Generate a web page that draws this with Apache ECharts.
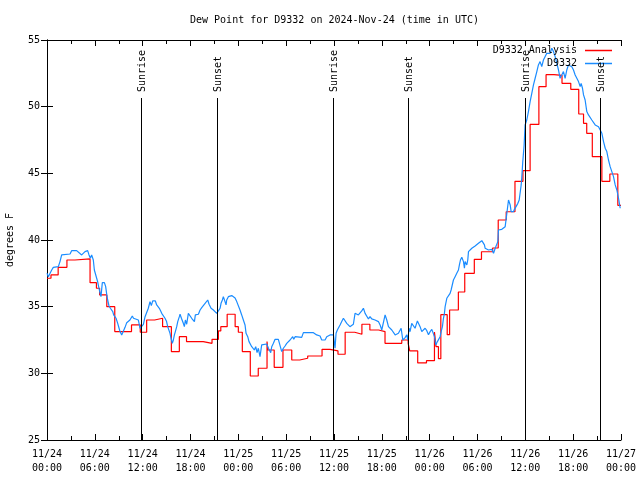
<!DOCTYPE html>
<html>
<head>
<meta charset="utf-8">
<script src="https://cdn.jsdelivr.net/npm/echarts@6/dist/echarts.min.js"></script>
<style>html,body{margin:0;padding:0;background:#fff}#c{width:640px;height:480px}</style>
</head>
<body>
<div id="c"></div>
<script>
const chartTitle = 'Dew Point for D9332 on 2024-Nov-24 (time in UTC)';
const yAxisName = 'degrees F';
const seriesNames = ['D9332 Analysis', 'D9332'];
// x in hours since 11/24 00:00 UTC
const xTickLabels = ['11/24\n00:00','11/24\n06:00','11/24\n12:00','11/24\n18:00','11/25\n00:00','11/25\n06:00','11/25\n12:00','11/25\n18:00','11/26\n00:00','11/26\n06:00','11/26\n12:00','11/26\n18:00','11/27\n00:00'];
const sunTimes = [11.8, 21.33, 35.88, 45.3, 59.97, 69.39];
const sunLabels = ['Sunrise','Sunset','Sunrise','Sunset','Sunrise','Sunset'];

// analysis (step changes): [hour, value]
const analysis = [[0,37.13],[0.5,37.38],[1.4,37.95],[2.5,38.5],[3.5,38.58],[5.4,36.8],[6.2,36.38],[6.6,35.88],[7.5,35.0],[8.5,33.13],[10.6,33.63],[11.7,33.08],[12.5,34.0],[13.5,34.13],[14.5,33.5],[15.6,31.63],[16.6,32.75],[17.5,32.38],[19.6,32.25],[20.7,32.55],[21.5,33.18],[21.8,33.5],[22.6,34.43],[23.6,33.5],[24.0,33.08],[24.5,31.63],[25.5,29.8],[26.5,30.38],[27.6,32.38],[27.7,31.75],[28.5,30.45],[29.6,31.75],[30.7,31.0],[31.7,31.13],[32.7,31.3],[34.5,31.8],[35.5,31.68],[36.5,31.43],[37.4,33.08],[38.6,32.93],[39.5,33.68],[40.5,33.25],[41.6,33.13],[42.4,32.25],[44.5,32.5],[45.3,32.25],[45.5,31.68],[46.5,30.78],[47.6,30.95],[48.6,33.1],[48.8,32.0],[49.1,31.1],[49.4,34.4],[50.2,32.9],[50.5,34.75],[51.6,36.1],[52.4,37.5],[53.6,38.55],[54.5,39.12],[55.9,39.4],[56.6,41.5],[57.6,42.12],[58.7,44.4],[59.7,45.2],[60.6,48.67],[61.7,51.5],[62.6,52.4],[63.6,52.35],[64.6,51.75],[65.7,51.3],[66.7,49.45],[67.3,48.75],[67.7,48.0],[68.4,46.25],[69.6,44.4],[70.6,44.95],[71.6,42.6],[72,42.6]];

// observations: [hour, value]
const observed = [[0,37.5],[0.17,37.25],[0.38,37.4],[0.59,37.75],[0.79,37.95],[1.42,38.0],[1.63,38.38],[1.84,38.88],[2.89,38.95],[3.09,39.2],[3.72,39.2],[3.93,39.05],[4.35,38.88],[4.56,38.75],[4.77,39.13],[5.1,39.2],[5.27,38.88],[5.44,38.63],[5.6,38.88],[5.81,38.5],[5.94,37.75],[6.1,37.63],[6.23,37.13],[6.35,36.88],[6.52,36.38],[6.65,36.25],[6.77,35.75],[6.94,36.8],[7.2,36.8],[7.36,36.5],[7.5,35.88],[7.61,35.5],[7.78,35.05],[7.95,34.88],[8.11,35.0],[8.25,34.63],[8.36,34.38],[8.5,34.25],[8.66,34.13],[8.87,33.75],[9.04,33.38],[9.16,33.13],[9.37,32.88],[9.58,33.0],[9.79,33.45],[10.0,33.8],[10.4,34.0],[10.7,34.3],[10.85,34.13],[11.0,34.0],[11.46,34.0],[11.67,33.38],[11.88,33.5],[12.09,33.68],[12.3,34.25],[12.5,34.38],[12.71,34.88],[12.92,35.38],[13.09,35.08],[13.26,35.43],[13.42,35.58],[13.59,35.43],[13.76,35.13],[13.97,35.18],[14.09,34.88],[14.26,34.68],[14.39,34.5],[14.6,34.63],[14.8,34.13],[15.0,33.88],[15.14,33.5],[15.27,33.63],[15.43,33.0],[15.56,32.63],[15.72,32.25],[15.85,32.5],[15.98,32.88],[16.1,33.13],[16.27,33.5],[16.4,33.88],[16.6,34.25],[16.69,34.43],[16.86,34.13],[16.94,34.25],[17.1,33.75],[17.23,33.5],[17.36,34.0],[17.52,33.68],[17.73,34.5],[17.94,34.43],[18.15,34.13],[18.36,34.13],[18.49,33.88],[18.61,34.38],[18.78,34.5],[18.99,34.43],[19.2,34.75],[19.41,34.93],[19.62,34.88],[19.83,35.25],[20.04,35.18],[20.16,35.5],[20.33,35.18],[20.45,35.13],[20.58,34.88],[20.75,35.0],[20.87,34.75],[21.08,34.63],[21.29,34.5],[21.5,34.58],[21.71,34.88],[21.83,35.25],[22.0,35.5],[22.12,35.75],[22.33,35.38],[22.46,35.13],[22.54,35.5],[22.75,35.75],[22.96,35.63],[23.17,35.83],[23.38,35.75],[23.59,35.65],[23.8,35.38],[24.0,35.25],[24.21,34.75],[24.42,34.38],[24.63,34.0],[24.84,33.63],[24.97,33.0],[25.18,32.75],[25.34,32.38],[25.47,32.25],[25.68,32.0],[25.89,32.13],[26.01,31.75],[26.18,32.0],[26.35,31.55],[26.51,31.88],[26.72,31.25],[26.93,32.13],[27.14,32.2],[27.56,32.2],[27.77,31.88],[27.89,31.75],[28.06,31.55],[28.19,32.0],[28.4,32.25],[28.61,32.55],[29.02,32.55],[29.23,32.5],[29.44,31.63],[29.65,31.88],[29.86,32.05],[30.07,32.25],[30.28,32.38],[30.49,32.5],[30.7,32.63],[30.82,32.75],[30.95,32.55],[31.12,32.75],[31.33,32.7],[31.95,32.7],[32.16,33.05],[33.42,33.05],[33.63,33.0],[33.83,32.88],[34.25,32.8],[34.46,32.5],[34.88,32.5],[35.09,32.75],[35.5,32.88],[35.93,32.88],[36.13,31.88],[36.26,33.0],[36.42,33.25],[36.55,33.13],[36.76,33.63],[36.97,33.88],[37.18,34.13],[37.39,34.0],[37.6,33.75],[37.8,33.63],[38.0,33.5],[38.22,33.38],[38.43,33.68],[38.64,34.5],[38.85,34.63],[39.06,34.38],[39.27,34.5],[39.48,34.68],[39.69,34.88],[39.9,34.5],[40.1,34.38],[40.32,34.08],[40.52,34.25],[40.73,34.08],[40.94,34.18],[41.15,34.0],[41.36,34.13],[41.57,33.88],[41.78,33.63],[41.99,33.25],[42.2,33.13],[42.41,34.38],[42.62,34.0],[42.83,33.5],[43.04,33.38],[43.25,33.25],[43.46,33.25],[43.67,32.88],[43.88,32.88],[44.08,33.0],[44.29,33.13],[44.42,33.38],[44.63,32.5],[44.79,32.63],[44.92,32.68],[45.13,32.88],[45.25,32.5],[45.42,33.38],[45.54,33.13],[45.75,33.75],[45.96,33.88],[46.17,33.38],[46.3,33.63],[46.46,33.93],[46.63,33.88],[46.8,33.5],[47.01,33.13],[47.22,33.0],[47.43,33.38],[47.64,33.2],[47.85,32.9],[48.06,33.13],[48.27,33.3],[48.47,33.45],[48.6,32.75],[48.77,32.13],[48.97,32.38],[49.18,32.25],[49.31,32.75],[49.44,33.13],[49.6,33.5],[49.73,34.13],[49.85,34.5],[49.94,35.0],[50.15,35.63],[50.35,35.5],[50.56,36.0],[50.69,36.25],[50.86,36.38],[50.98,37.0],[51.19,37.25],[51.4,37.5],[51.61,37.75],[51.73,38.13],[51.86,38.5],[52.03,38.7],[52.24,38.38],[52.36,37.88],[52.45,38.38],[52.66,38.13],[52.78,38.5],[52.87,39.13],[53.08,39.13],[53.29,39.38],[53.5,39.5],[53.7,39.55],[53.91,39.5],[54.12,39.75],[54.33,39.88],[54.54,39.95],[54.75,39.88],[54.87,39.63],[54.96,39.38],[55.17,39.3],[55.38,39.25],[55.59,39.38],[55.8,39.3],[56.01,39.0],[56.22,39.38],[56.43,39.5],[56.55,39.88],[56.63,40.75],[56.84,40.8],[57.05,40.8],[57.26,40.88],[57.47,41.0],[57.68,42.0],[57.89,43.0],[58.1,42.63],[58.22,42.13],[58.35,42.2],[58.52,42.13],[58.64,42.3],[58.81,42.38],[59.06,42.75],[59.23,43.0],[59.35,43.0],[59.48,44.13],[59.55,44.63],[59.68,45.88],[59.85,47.13],[59.97,48.63],[60.18,49.0],[60.39,49.63],[60.6,50.38],[60.81,51.0],[61.02,51.63],[61.23,52.13],[61.44,52.63],[61.64,53.13],[61.85,53.38],[62.06,53.0],[62.27,53.5],[62.48,53.63],[62.69,54.0],[62.9,54.13],[63.11,54.0],[63.32,54.38],[63.53,54.13],[63.74,53.75],[63.95,53.25],[64.16,52.75],[64.36,52.13],[64.57,52.38],[64.78,52.63],[64.99,52.13],[65.2,52.75],[65.41,53.13],[65.62,53.25],[65.83,53.0],[66.04,52.75],[66.25,52.38],[66.46,52.13],[66.67,51.88],[66.88,51.5],[67.0,51.75],[67.17,51.38],[67.3,50.88],[67.5,50.5],[67.71,49.63],[67.92,49.38],[68.13,49.25],[68.34,49.0],[68.55,48.88],[68.76,48.63],[68.97,48.68],[69.18,48.5],[69.39,48.25],[69.6,48.0],[69.81,47.38],[70.02,46.88],[70.22,46.63],[70.43,46.0],[70.64,45.5],[70.85,45.13],[71.06,44.75],[71.27,44.13],[71.48,43.75],[71.69,43.13],[71.9,42.38]];

const FONT = '"DejaVu Sans Mono", "Liberation Mono", monospace';
const chart = echarts.init(document.getElementById('c'), null, {renderer: 'canvas'});
const sunTop = 50.65;

const xAxisBase = {
  type: 'value', min: 0, max: 72, interval: 6,
  axisLine: {show: true, lineStyle: {color: '#000', width: 1}},
  axisTick: {show: true, inside: true, length: 6, lineStyle: {color: '#000'}},
  minorTick: {show: true, splitNumber: 2, length: 4, lineStyle: {color: '#000'}},
  splitLine: {show: false}
};
const yAxisBase = {
  type: 'value', min: 25, max: 55, interval: 5,
  axisLine: {show: true, lineStyle: {color: '#000', width: 1}},
  axisTick: {show: true, inside: true, length: 6, lineStyle: {color: '#000'}},
  splitLine: {show: false}
};

chart.setOption({
  animation: false,
  backgroundColor: '#fff',
  title: {
    text: chartTitle, left: 190, top: 15, padding: 0,
    textStyle: {fontFamily: FONT, fontSize: 10, fontWeight: 'normal', color: '#000'}
  },
  legend: {
    data: seriesNames, orient: 'vertical', right: 23, top: 40, align: 'right',
    icon: 'rect', itemWidth: 27, itemHeight: 1.5, itemGap: 2,
    textStyle: {fontFamily: FONT, fontSize: 10, color: '#000', padding: [0, 3, 0, 0], lineHeight: 11}
  },
  grid: {left: 47, right: 19, top: 40, bottom: 40, containLabel: false, outerBoundsMode: 'none'},
  xAxis: [
    Object.assign({}, xAxisBase, {
      position: 'bottom',
      axisLabel: {
        show: true, margin: 7, color: '#000', fontFamily: FONT, fontSize: 10, lineHeight: 14,
        formatter: v => xTickLabels[Math.round(v / 6)]
      }
    }),
    Object.assign({}, xAxisBase, {position: 'top', axisLabel: {show: false}})
  ],
  yAxis: [
    Object.assign({}, yAxisBase, {
      position: 'left',
      name: yAxisName, nameLocation: 'middle', nameGap: 32, nameRotate: 90,
      nameTextStyle: {fontFamily: FONT, fontSize: 10, color: '#000'},
      axisLabel: {show: true, margin: 7, color: '#000', fontFamily: FONT, fontSize: 10}
    }),
    Object.assign({}, yAxisBase, {position: 'right', axisLabel: {show: false}})
  ],
  series: [
    {
      name: seriesNames[0], type: 'line', step: 'end', data: analysis,
      symbol: 'none', lineStyle: {color: '#ff0000', width: 1.2}, itemStyle: {color: '#ff0000'}, z: 2
    },
    {
      name: seriesNames[1], type: 'line', data: observed,
      symbol: 'none', lineStyle: {color: '#1a8cff', width: 1.2}, itemStyle: {color: '#1a8cff'}, z: 3
    },
    {
      type: 'custom', z: 5, silent: true,
      data: sunTimes.map(t => [t, sunTop]),
      renderItem: function (params, api) {
        const t = api.value(0);
        const p0 = api.coord([t, 25]);
        const p1 = api.coord([t, api.value(1)]);
        const x = Math.round(p0[0]) + 0.5;
        return {
          type: 'group',
          children: [
            {type: 'line', shape: {x1: x, y1: p0[1], x2: x, y2: p1[1]}, style: {stroke: '#000', lineWidth: 1}},
            {type: 'text', x: x + 1, y: p1[1] - 6, rotation: Math.PI / 2,
             style: {text: sunLabels[params.dataIndex], fill: '#000', font: '10px ' + FONT, align: 'left', verticalAlign: 'middle'}}
          ]
        };
      }
    }
  ]
});
</script>
</body>
</html>
